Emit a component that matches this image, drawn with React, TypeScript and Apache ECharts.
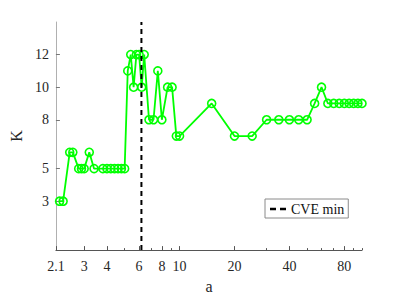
import React, { useEffect, useRef } from "react";
import * as echarts from "echarts";

const aValues = [
  2.2, 2.3, 2.5, 2.6, 2.8, 2.9, 3.0, 3.2, 3.4, 3.8, 4.0, 4.2, 4.4, 4.6, 4.8, 5.0,
  5.2, 5.4, 5.6, 5.8, 6.0, 6.2, 6.4, 6.8, 7.2, 7.6, 8.0, 8.6, 9.1, 9.6, 10,
  15, 20, 25, 30, 35, 40, 45, 50, 55, 60, 65, 70, 75, 80, 85, 90, 95, 100,
];
const kValues = [
  3, 3, 6, 6, 5, 5, 5, 6, 5, 5, 5, 5, 5, 5, 5, 5,
  11, 12, 10, 12, 12, 10, 12, 8, 8, 11, 8, 10, 10, 7, 7,
  9, 7, 7, 8, 8, 8, 8, 8, 9, 10, 9, 9, 9, 9, 9, 9, 9, 9,
];
const cveMin = 6.18;
const xTicks = [2.1, 3, 4, 6, 8, 10, 20, 40, 80];
const xMinorTicks = [5, 7, 9, 30, 50, 60, 70, 90, 100];
const yTicks = [3, 5, 8, 10, 12];
const xRange = [2.1, 100];
const yRange = [0, 14];

const FONT = "Liberation Serif";

export default function App() {
  const ref = useRef<HTMLDivElement>(null);
  useEffect(() => {
    if (!ref.current) return;
    const chart = echarts.init(ref.current, null, { renderer: "svg" });
    const lineData = aValues.map((a, i) => [a, kValues[i]]);
    chart.setOption({
      animation: false,
      backgroundColor: "#ffffff",
      grid: { left: 52, top: 22, right: 37, bottom: 47 },
      legend: {
        data: [
          {
            name: "CVE min",
            icon: "path://M0,0 H6 V2.4 H0 Z M10,0 H16 V2.4 H10 Z",
            itemStyle: { color: "#000" },
          },
        ],
        left: 265,
        top: 199,
        orient: "vertical",
        backgroundColor: "#ffffff",
        borderColor: "#8a8a8a",
        borderWidth: 1,
        borderRadius: 0,
        padding: [3, 4, 2, 5],
        itemWidth: 16,
        itemHeight: 3,
        itemGap: 4,
        textStyle: { fontFamily: FONT, fontSize: 14, color: "#111" },
      },
      xAxis: [
        {
          type: "log",
          min: xRange[0],
          max: xRange[1],
          name: "a",
          nameLocation: "middle",
          nameGap: 23,
          nameTextStyle: { fontFamily: FONT, fontSize: 16, color: "#262626" },
          axisLine: { show: true, lineStyle: { color: "#555", width: 1 } },
          axisTick: { show: true, inside: true, length: 4, customValues: xTicks, lineStyle: { color: "#555" } },
          axisLabel: { customValues: xTicks, fontFamily: FONT, fontSize: 14, color: "#262626", margin: 9, formatter: (v: number) => String(v) },
          splitLine: { show: false },
          minorTick: { show: false },
        },
        {
          type: "log",
          min: xRange[0],
          max: xRange[1],
          position: "bottom",
          axisLine: { show: false },
          axisTick: { show: true, inside: true, length: 2, customValues: xMinorTicks, lineStyle: { color: "#555" } },
          axisLabel: { show: false },
          splitLine: { show: false },
        },
      ],
      yAxis: {
        type: "value",
        min: yRange[0],
        max: yRange[1],
        name: "K",
        nameLocation: "middle",
        nameGap: 26,
        nameRotate: 90,
        nameTextStyle: { fontFamily: FONT, fontSize: 16, color: "#262626" },
        axisLine: { show: true, lineStyle: { color: "#b0b0b0", width: 1 } },
        axisTick: { show: true, inside: true, length: 4, customValues: yTicks, lineStyle: { color: "#777" } },
        axisLabel: { customValues: yTicks, fontFamily: FONT, fontSize: 14, color: "#262626", margin: 7 },
        splitLine: { show: false },
      },
      series: [
        {
          name: "K",
          type: "line",
          xAxisIndex: 0,
          data: lineData,
          symbol: "circle",
          symbolSize: 8,
          showSymbol: true,
          lineStyle: { color: "#00ff00", width: 1.8 },
          itemStyle: { color: "rgba(0,0,0,0)", borderColor: "#00ff00", borderWidth: 1.6 },
          z: 3,
        },
        {
          name: "CVE min",
          type: "line",
          xAxisIndex: 0,
          data: [[cveMin, yRange[0]], [cveMin, yRange[1]]],
          symbol: "none",
          lineStyle: { color: "#000", width: 2, type: [5, 4] },
          itemStyle: { color: "#000" },
          z: 4,
        },
      ],
    });
    return () => chart.dispose();
  }, []);
  return (
    <div
      ref={ref}
      style={{ position: "absolute", left: 0, top: 0, width: 399, height: 299 }}
    />
  );
}
